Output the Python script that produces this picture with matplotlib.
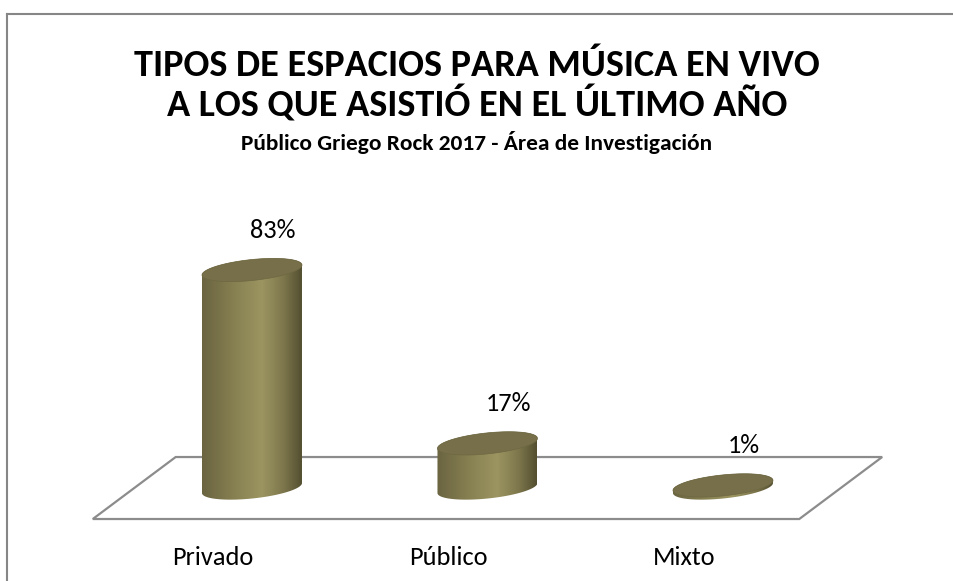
import numpy as np
import matplotlib.pyplot as plt
from matplotlib.colors import LinearSegmentedColormap
from matplotlib.patches import Polygon
from matplotlib.lines import Line2D
from matplotlib import font_manager

# datos
categorias = ['Privado', 'Público', 'Mixto']
valores = [83, 17, 1]
etiquetas = ['83%', '17%', '1%']

titulo_1 = 'TIPOS DE ESPACIOS PARA MÚSICA EN VIVO'
titulo_2 = 'A LOS QUE ASISTIÓ EN EL ÚLTIMO AÑO'
subtitulo = 'Público Griego Rock 2017 - Área de Investigación'

# fuente parecida a Calibri si existe
disponibles = {f.name for f in font_manager.fontManager.ttflist}
fuentes = [f for f in ['Carlito', 'Liberation Sans Narrow', 'Open Sans'] if f in disponibles]
plt.rcParams['font.family'] = fuentes + ['DejaVu Sans']

W, H = 954, 581
fig = plt.figure(figsize=(W / 100, H / 100), dpi=100)
ax = fig.add_axes([0, 0, 1, 1])
ax.axis('off')

xlim = (-1.070, 2.981)
ylim = (-35.4, 185.8)
px_x = W / (xlim[1] - xlim[0])
px_y = H / (ylim[1] - ylim[0])

# tamano de los cilindros (en pixeles convertidos a unidades de datos)
a = 50 / px_x
b = 10.5 / px_y
k = 0.1 * px_x / px_y

# piso en perspectiva
dx, dy = 0.176, 11.8
n = len(categorias)
piso = [(-0.5 - dx, -dy), (n - 0.5 - dx, -dy), (n - 0.5 + dx, dy), (-0.5 + dx, dy)]
ax.add_patch(Polygon(piso, closed=True, facecolor='white', edgecolor='#8c8c8c',
                     lw=1.6, zorder=1))

cmap = LinearSegmentedColormap.from_list('oliva', [
    (0.0, '#6a6441'), (0.3, '#857e50'), (0.6, '#9c9561'),
    (0.82, '#7d764c'), (1.0, '#534f30')])


def elipse(cx, cy, t):
    return cx + a * np.cos(t), cy + b * np.sin(t) + k * a * np.cos(t)


for i, (v, lab) in enumerate(zip(valores, etiquetas)):
    cx = i
    tb = np.linspace(np.pi, 2 * np.pi, 100)
    tt = np.linspace(0, np.pi, 100)
    xb, yb = elipse(cx, 0, tb)
    xt, yt = elipse(cx, v, tt)
    cuerpo = Polygon(np.column_stack([np.r_[xb, xt], np.r_[yb, yt]]), closed=True,
                     facecolor='none', edgecolor='none', zorder=2)
    ax.add_patch(cuerpo)
    grad = np.linspace(0, 1, 256).reshape(1, -1)
    ax.imshow(grad, cmap=cmap, extent=[cx - a, cx + a, yb.min() - 1, yt.max() + 1],
              aspect='auto', clip_path=cuerpo, zorder=2, interpolation='bilinear')
    tc = np.linspace(0, 2 * np.pi, 200)
    xc, yc = elipse(cx, v, tc)
    ax.add_patch(Polygon(np.column_stack([xc, yc]), closed=True,
                         facecolor='#766f49', edgecolor='#6e6843', lw=0.5, zorder=3))
    ax.text(cx + 0.09, v + 15, lab, ha='center', va='center', fontsize=19, zorder=4)

for i, c in enumerate(categorias):
    ax.text(i - 0.165, -26.3, c, ha='center', va='center', fontsize=19)

ax.set_xlim(*xlim)
ax.set_ylim(*ylim)

# titulos
fig.text(0.5, 1 - 66 / H, titulo_1, ha='center', va='center', fontsize=27.5, weight='bold')
fig.text(0.5, 1 - 104 / H, titulo_2, ha='center', va='center', fontsize=27.5, weight='bold')
fig.text(0.5, 1 - 143 / H, subtitulo, ha='center', va='center', fontsize=16.8, weight='bold')

# borde del grafico
fig.add_artist(Line2D([7.5 / W, 7.5 / W], [0, 1 - 13.5 / H], color='#868686', lw=1.5))
fig.add_artist(Line2D([7 / W, 1.01], [1 - 13.5 / H, 1 - 13.5 / H], color='#868686', lw=1.5))

fig.savefig('out.png', dpi=100)
